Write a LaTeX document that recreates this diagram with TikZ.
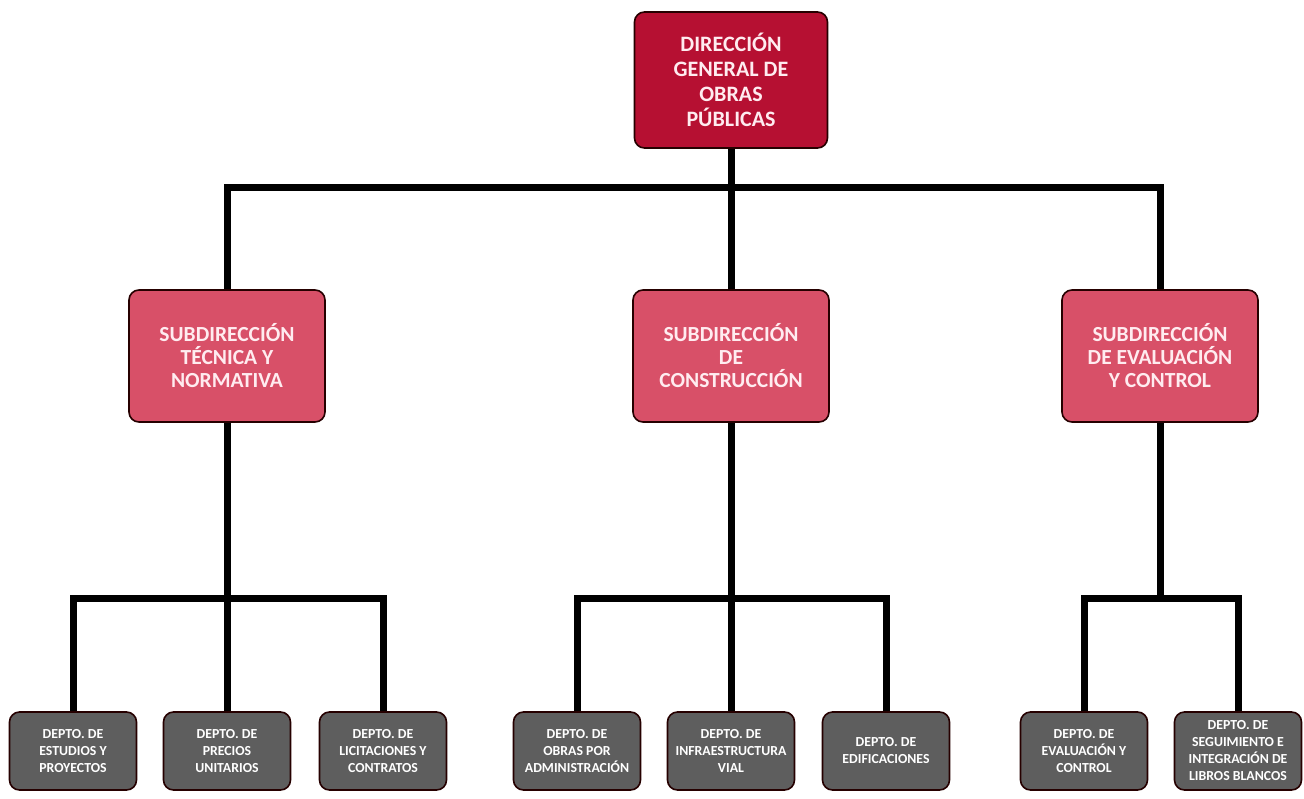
\documentclass[tikz,border=0pt]{standalone}
\usepackage{fontspec}
\setmainfont{Carlito}
\usepackage{tikz}
\definecolor{dirred}{RGB}{182,16,50}
\definecolor{subred}{RGB}{216,80,104}
\definecolor{deptgray}{RGB}{94,94,94}
\definecolor{paletext}{RGB}{255,236,240}
\tikzset{
   org box/.style={draw=black!85!red, line width=1.6pt, rounded corners=10pt,
           align=center, inner sep=2pt},
   dir box/.style={org box, fill=dirred, text=paletext, minimum width=193pt,
           minimum height=136pt, font=\fontsize{22}{25}\selectfont\bfseries},
   sub box/.style={org box, fill=subred, text=paletext, minimum width=196pt,
           minimum height=132pt, font=\fontsize{21.5}{23}\selectfont\bfseries},
   dept box/.style={org box, fill=deptgray, text=white, minimum width=127pt,
           minimum height=78pt, font=\fontsize{13.8}{17}\selectfont\bfseries},
   link/.style={line width=7pt, black}
}

\begin{document}
\begin{tikzpicture}[x=1pt, y=-1pt]
    \useasboundingbox (0,0) rectangle (1304,798);

    \node[dir box] (dir) at (731, 80) {DIRECCIÓN\\GENERAL DE\\OBRAS\\PÚBLICAS};

    \node[sub box] (sub1) at (227, 356) {SUBDIRECCIÓN\\TÉCNICA Y\\NORMATIVA};
    \node[sub box] (sub2) at (731, 356) {SUBDIRECCIÓN\\DE\\CONSTRUCCIÓN};
    \node[sub box] (sub3) at (1160, 356) {SUBDIRECCIÓN\\DE EVALUACIÓN\\Y CONTROL};

    \node[dept box] (d1) at (73, 751) {DEPTO. DE\\ESTUDIOS Y\\PROYECTOS};
    \node[dept box] (d2) at (227, 751) {DEPTO. DE\\PRECIOS\\UNITARIOS};
    \node[dept box] (d3) at (383, 751) {DEPTO. DE\\LICITACIONES Y\\CONTRATOS};
    \node[dept box] (d4) at (577, 751) {DEPTO. DE\\OBRAS POR\\ADMINISTRACIÓN};
    \node[dept box] (d5) at (731, 751) {DEPTO. DE\\INFRAESTRUCTURA\\VIAL};
    \node[dept box] (d6) at (886, 751) {DEPTO. DE\\EDIFICACIONES};
    \node[dept box] (d7) at (1084, 751) {DEPTO. DE\\EVALUACIÓN Y\\CONTROL};
    \node[dept box] (d8) at (1238, 751) {DEPTO. DE\\SEGUIMIENTO E\\INTEGRACIÓN DE\\LIBROS BLANCOS};

    % top level
    \coordinate (bar0) at (731, 187);
    \draw[link] (dir.south) -- (sub2.north);
    \draw[link] (sub1.north) |- (bar0) -| (sub3.north);

    % departments
    \coordinate (bar1) at (227, 598);
    \coordinate (bar2) at (731, 598);
    \coordinate (bar3) at (1160, 598);
    \draw[link] (sub1.south) -- (bar1);
    \draw[link] (sub2.south) -- (bar2);
    \draw[link] (sub3.south) -- (bar3);
    \draw[link] (d1.north) |- (bar1) -| (d3.north);
    \draw[link] (d2.north) -- (bar1);
    \draw[link] (d4.north) |- (bar2) -| (d6.north);
    \draw[link] (d5.north) -- (bar2);
    \draw[link] (d7.north) |- (bar3) -| (d8.north);

\end{tikzpicture}
\end{document}
